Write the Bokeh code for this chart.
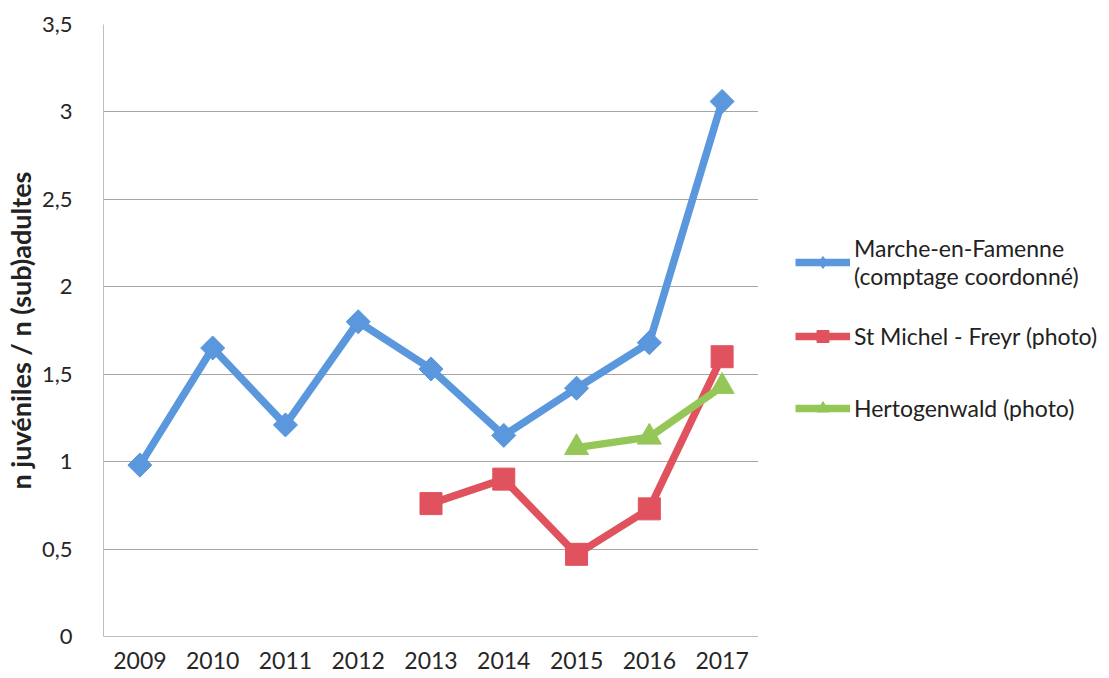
import math
from bokeh.plotting import figure
from bokeh.layouts import row
from bokeh.models import Legend, LegendItem, FixedTicker, Range1d, FactorRange
from bokeh.embed import file_html
from bokeh.resources import INLINE

years = ["2009", "2010", "2011", "2012", "2013", "2014", "2015", "2016", "2017"]

marche_years = years
marche_vals = [0.98, 1.65, 1.21, 1.80, 1.53, 1.15, 1.42, 1.68, 3.06]

michel_years = ["2013", "2014", "2015", "2016", "2017"]
michel_vals = [0.76, 0.90, 0.47, 0.73, 1.60]

hertog_years = ["2015", "2016", "2017"]
hertog_vals = [1.08, 1.14, 1.43]

series_names = ["Marche-en-Famenne\n(comptage coordonné)",
                "St Michel - Freyr (photo)",
                "Hertogenwald (photo)"]

y_ticks = [0, 0.5, 1, 1.5, 2, 2.5, 3, 3.5]
y_tick_labels = ["0", "0,5", "1", "1,5", "2", "2,5", "3", "3,5"]

FONT = "Lato"
BLUE = "#5a97dc"
RED = "#e0525e"
GREEN = "#94c758"
LW = 7.5
H = 674

p = figure(x_range=FactorRange(*years), y_range=Range1d(0, 3.5),
           width=758, height=H,
           min_border_left=101, min_border_top=24, min_border_bottom=38,
           min_border_right=0,
           output_backend="svg", toolbar_location=None)
p.outline_line_color = None

p.xgrid.grid_line_color = None
p.ygrid.grid_line_color = "#a6a6a6"
p.ygrid.grid_line_width = 1

p.yaxis.ticker = FixedTicker(ticks=y_ticks)
p.yaxis.major_label_overrides = {t: l for t, l in zip(y_ticks, y_tick_labels)}
for ax in (p.xaxis[0], p.yaxis[0]):
    ax.major_tick_line_color = None
    ax.minor_tick_line_color = None
    ax.axis_line_color = "#bdbdbd"
    ax.major_label_text_font = FONT
    ax.major_label_text_color = "#262626"
p.xaxis.major_label_text_font_size = "23px"
p.yaxis.major_label_text_font_size = "22px"
p.xaxis.major_label_standoff = 9
p.yaxis.major_label_standoff = 25
p.yaxis.axis_label = "n juvéniles / n (sub)adultes"
p.yaxis.axis_label_text_font = FONT
p.yaxis.axis_label_text_font_style = "bold"
p.yaxis.axis_label_text_font_size = "27px"
p.yaxis.axis_label_text_color = "#222222"
p.yaxis.axis_label_standoff = 2

p.line(marche_years, marche_vals, line_color=BLUE, line_width=LW)
p.scatter(marche_years, marche_vals, marker="square", angle=math.pi / 4,
          size=17, fill_color=BLUE, line_color=BLUE)
p.line(michel_years, michel_vals, line_color=RED, line_width=LW)
p.scatter(michel_years, michel_vals, marker="square", size=22,
          fill_color=RED, line_color=RED)
p.line(hertog_years, hertog_vals, line_color=GREEN, line_width=LW)
p.scatter(hertog_years, hertog_vals, marker="triangle", size=24,
          fill_color=GREEN, line_color=GREEN)

# Legend panel: a separate figure whose (hidden) renderers only feed the legend
lf = figure(width=342, height=H, x_range=FactorRange(*years),
            y_range=Range1d(0, 3.5),
            min_border_left=0, min_border_right=0, min_border_top=0,
            min_border_bottom=0, x_axis_type=None, y_axis_type=None,
            output_backend="svg", toolbar_location=None)
lf.outline_line_color = None
lf.xgrid.grid_line_color = None
lf.ygrid.grid_line_color = None

lr1 = lf.line(marche_years, marche_vals, line_color=BLUE, line_width=LW, visible=False)
lm1 = lf.scatter(marche_years, marche_vals, marker="diamond",
                 fill_color=BLUE, line_color=BLUE, visible=False)
lr2 = lf.line(michel_years, michel_vals, line_color=RED, line_width=LW, visible=False)
lm2 = lf.scatter(michel_years, michel_vals, marker="square",
                 fill_color=RED, line_color=RED, visible=False)
lr3 = lf.line(hertog_years, hertog_vals, line_color=GREEN, line_width=LW, visible=False)
lm3 = lf.scatter(hertog_years, hertog_vals, marker="triangle",
                 fill_color=GREEN, line_color=GREEN, visible=False)

legend = Legend(items=[
    LegendItem(label=series_names[0], renderers=[lr1, lm1]),
    LegendItem(label=series_names[1], renderers=[lr2, lm2]),
    LegendItem(label=series_names[2], renderers=[lr3, lm3]),
], location=(37, 202))
legend.border_line_color = None
legend.background_fill_alpha = 0
legend.inactive_fill_alpha = 0
legend.margin = 0
legend.padding = 0
legend.glyph_width = 55
legend.glyph_height = 30
legend.label_height = 52
legend.label_standoff = 4
legend.spacing = 20
legend.label_text_font = FONT
legend.label_text_font_size = "23px"
legend.label_text_line_height = 1.05
legend.label_text_color = "#222222"
legend.click_policy = "none"
lf.add_layout(legend, "center")

layout = row(p, lf, spacing=0)
open("out.html", "w").write(file_html(layout, INLINE))
